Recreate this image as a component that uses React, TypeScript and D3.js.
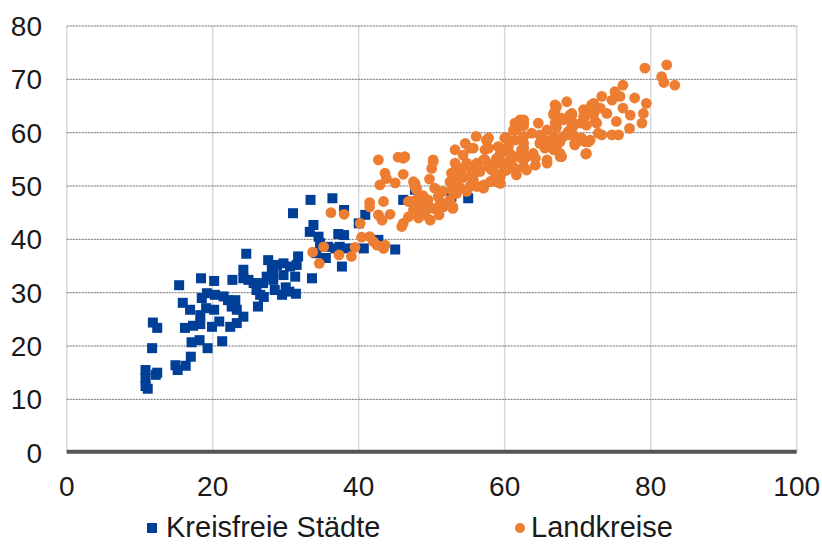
import React from 'react';
import * as d3 from 'd3';

// Kreisfreie Städte (x, y)
const kreisfreieStaedte: [number, number][] = [
  [10.8, 15.5], [10.8, 14], [10.8, 12.5], [11.1, 12], [12.4, 15], [12.2, 14.6], [11.7, 19.6],
  [11.8, 24.4], [12.4, 23.4], [14.9, 16.4], [15.2, 15.5], [16.3, 16.3], [17.0, 18], [17.1, 20.7],
  [18.2, 21.1], [19.3, 19.6], [21.3, 20.9], [15.4, 31.4], [18.4, 32.7], [20.2, 32.2], [15.9, 28.1],
  [16.9, 26.8], [16.2, 23.4], [17.3, 23.8], [18.3, 24.1], [18.3, 25.8], [19.1, 27.1], [18.5, 29.0],
  [19.2, 29.9], [20.2, 26.8], [19.9, 23.6], [20.9, 24.6], [20.3, 29.6], [21.5, 29.3], [22.1, 28.6],
  [23.1, 28.6], [22.6, 27.4], [23.3, 26.8], [24.2, 25.5], [22.4, 23.6], [23.3, 24.3], [22.7, 32.4],
  [24.2, 34.3], [24.6, 37.3], [24.2, 32.7], [24.9, 32.4], [25.6, 31.8], [26.2, 27.4], [26.5, 29.6],
  [26.0, 30.5], [26.9, 31.8], [27.4, 33.0], [27.6, 36.1], [28.1, 34.6], [28.5, 30.5], [28.3, 32.4],
  [31.0, 44.9], [33.4, 47.4], [36.4, 47.7], [38.0, 45.5], [33.8, 42.7], [33.3, 41.4], [34.5, 40.5],
  [34.7, 39.3], [37.2, 41.0], [38.0, 40.8], [35.8, 38.6], [36.8, 38.3], [37.4, 38.6], [38.4, 38.3],
  [37.7, 34.9], [33.6, 32.7], [35.5, 36.5], [34.2, 37.4], [31.7, 36.8], [31.5, 35.2], [29.7, 33.3],
  [28.8, 35.2], [29.7, 35.5], [31.3, 33.0], [30.6, 34.9], [28.3, 33.6], [40.9, 44.6], [40.0, 43.0],
  [40.7, 38.3], [42.7, 39.9], [45.0, 38.1], [46.1, 47.4], [47.7, 49.3], [55.0, 47.7], [52.7, 48.0],
  [30.5, 30.2], [29.5, 29.6], [31.4, 29.8], [30.0, 31.0], [27.0, 29.2],
];

// Landkreise (x, y)
const landkreise: [number, number][] = [
  [36.2, 45.0], [38.0, 44.7], [40.2, 43.0], [35.2, 38.6], [33.7, 37.6], [34.6, 35.5], [37.3, 37.1],
  [39.0, 36.8], [39.5, 38.5], [40.4, 40.4], [41.5, 40.5], [42.0, 39.6], [42.5, 38.9], [43.6, 38.9],
  [43.4, 38.3], [41.5, 46.9], [41.5, 46.1], [43.4, 47.1], [42.7, 44.6], [43.2, 43.6], [44.3, 44.7],
  [42.9, 50.2], [43.6, 52.4], [43.8, 51.4], [45.0, 50.6], [46.1, 52.2], [42.7, 54.9], [45.4, 55.4],
  [46.3, 55.4], [47.7, 50.5], [47.9, 49.3], [49.7, 51.3], [50.0, 53.3], [50.2, 54.9], [46.1, 43.0],
  [45.9, 42.4], [46.8, 44.2], [46.8, 47.1], [47.9, 47.4], [47.5, 45.5], [48.4, 45.8], [49.1, 44.6],
  [49.8, 43.6], [49.3, 46.8], [50.7, 45.8], [50.9, 48.0], [51.8, 46.4], [52.9, 45.8], [52.5, 47.4],
  [53.2, 49.9], [53.4, 48.6], [52.7, 52.4], [53.4, 51.4], [54.1, 53.0], [54.1, 51.4], [53.2, 54.3],
  [54.8, 54.3], [53.2, 56.8], [54.3, 55.8],
  [46.1, 55.2], [47.5, 50.8], [47.7, 49.8], [54.6, 58.0], [55.2, 57.1], [56.1, 59.3], [57.6, 58.6],
  [57.8, 57.1], [53.9, 53.0], [52.9, 51.1], [54.8, 53.9], [55.5, 53.3], [55.2, 51.7], [56.6, 53.0],
  [57.1, 54.9], [57.8, 53.6], [58.4, 53.0], [58.9, 51.1], [59.4, 54.3], [59.4, 56.1], [59.1, 57.4],
  [57.1, 49.9], [56.2, 49.9], [55.7, 51.1], [58.0, 50.8], [59.4, 50.5], [60.3, 53.0], [60.7, 54.9],
  [60.5, 57.4], [60.3, 59.0], [61.6, 60.5], [62.6, 61.8], [62.1, 62.4], [61.4, 61.8], [61.4, 58.6],
  [62.6, 58.0], [62.3, 56.8], [61.4, 55.5], [63.0, 55.5], [62.6, 53.6], [61.6, 53.0], [64.2, 53.9],
  [65.8, 54.3], [63.9, 56.1], [64.8, 58.0], [64.6, 61.8], [65.8, 60.5], [65.5, 58.6], [66.7, 59.3],
  [67.1, 57.4], [67.6, 55.5], [66.9, 64.0], [67.1, 64.9], [68.5, 65.8], [68.0, 62.4], [69.2, 63.3],
  [69.2, 61.4], [68.7, 60.2], [69.4, 59.6], [69.6, 57.7], [71.0, 58.3], [71.7, 58.6], [71.2, 56.1],
  [70.8, 64.3], [71.9, 65.2], [72.2, 63.6], [72.6, 61.8], [70.5, 61.8],
  [79.2, 72.1], [82.2, 72.7], [81.5, 70.5], [81.8, 69.4], [83.3, 68.9], [76.2, 68.9], [75.1, 67.7],
  [75.8, 66.8], [74.7, 66.1], [73.3, 66.8], [72.2, 65.5], [77.8, 66.5], [79.4, 65.5], [79.0, 63.6],
  [78.8, 61.8], [77.2, 63.3], [77.1, 60.8], [75.3, 62.1], [74.7, 59.6], [73.3, 59.6], [75.6, 59.6],
  [76.2, 64.6], [74.0, 63.6], [73.1, 64.6], [71.2, 63.3], [66.7, 63.6], [69.2, 63.6], [71.2, 61.4],
  [71.1, 56.0], [70.5, 59.0], [69.6, 58.0], [67.8, 55.5], [68.0, 59.3], [67.1, 61.0], [64.8, 59.6],
  [62.6, 62.4], [62.6, 59.3], [62.6, 54.9], [66.7, 56.8], [69.0, 60.5], [69.4, 61.8],
  [46.3, 55.5], [47.9, 49.6], [47.0, 47.1], [48.4, 46.1], [49.5, 47.4], [50.2, 45.8], [51.6, 46.1],
  [52.9, 46.1], [50.2, 54.6], [57.5, 58.6], [53.4, 53.6], [52.9, 52.4], [52.5, 50.8], [53.6, 51.1],
  [52.7, 49.3], [53.9, 49.6], [54.8, 49.0], [55.2, 49.9], [55.0, 53.9], [56.2, 54.3], [55.5, 52.4],
  [56.6, 52.7], [57.1, 49.6], [58.2, 53.0], [58.9, 50.8], [59.4, 51.7], [58.7, 54.6], [59.4, 57.1],
  [57.3, 56.8], [59.8, 54.3],
  [57.8, 59.0], [57.6, 57.1], [60.0, 59.0], [61.2, 60.5], [62.1, 62.1], [62.6, 61.3], [63.7, 59.9],
  [66.0, 58.3], [65.5, 57.1], [64.2, 55.2], [65.8, 54.9], [67.6, 56.1], [67.6, 58.3], [66.9, 61.8],
  [66.7, 63.3], [66.9, 65.2], [67.8, 62.7], [68.9, 63.3], [69.4, 61.2], [68.7, 59.6], [69.9, 58.3],
  [71.5, 58.3], [70.8, 63.0], [71.7, 64.6], [72.4, 62.1], [72.8, 59.9], [55.7, 57.1], [57.3, 54.9],
  [58.9, 55.2], [59.8, 52.7], [61.2, 53.6], [60.7, 56.1], [62.6, 57.1], [62.3, 55.2], [63.0, 53.0],
  [61.6, 52.1], [58.4, 51.1], [57.1, 50.2], [55.7, 52.2],
  [48.8, 48.2], [51.2, 47.0], [49.0, 45.2], [51.0, 44.6], [48.2, 44.0], [50.4, 49.6], [51.5, 49.0],
];

const xTicks = [0, 20, 40, 60, 80, 100];
const yTicks = [0, 10, 20, 30, 40, 50, 60, 70, 80];

const BLUE = '#003f98';
const ORANGE = '#ed7d31';
const FONT = '"Liberation Sans", Arial, sans-serif';

const App = () => {
  const width = 822;
  const height = 544;

  const x = d3.scaleLinear().domain([0, 100]).range([66.7, 796.7]);
  const y = d3.scaleLinear().domain([0, 80]).range([452.7, 26]);
  const sq = 10;

  return (
    <svg
      width={width}
      height={height}
      style={{ position: 'absolute', left: 0, top: 0, background: '#fff' }}
      fontFamily={FONT}
    >
      {/* vertical gridlines */}
      {xTicks.map((t) => (
        <line
          key={'vx' + t}
          x1={x(t)}
          x2={x(t)}
          y1={y(80)}
          y2={y(0)}
          stroke="#d9d9d9"
          strokeWidth={1.5}
        />
      ))}
      {/* horizontal dotted gridlines */}
      {yTicks
        .filter((t) => t > 0)
        .map((t) => (
          <line
            key={'hy' + t}
            x1={x(0)}
            x2={x(100)}
            y1={y(t)}
            y2={y(t)}
            stroke="#6b6b6b"
            strokeWidth={1}
            strokeDasharray="2,1"
          />
        ))}

      {/* markers */}
      {kreisfreieStaedte.map((d, i) => (
        <rect
          key={'s' + i}
          x={x(d[0]) - sq / 2}
          y={y(d[1]) - sq / 2}
          width={sq}
          height={sq}
          fill={BLUE}
        />
      ))}
      {landkreise.map((d, i) => (
        <circle key={'l' + i} cx={x(d[0])} cy={y(d[1])} r={5.4} fill={ORANGE} />
      ))}

      {/* x axis line */}
      <line x1={x(0)} x2={x(100)} y1={y(0) - 1} y2={y(0) - 1} stroke="#555555" strokeWidth={4} />

      {/* tick labels */}
      {yTicks.map((t) => (
        <text
          key={'yl' + t}
          x={42}
          y={y(t)}
          dy="0.36em"
          textAnchor="end"
          fontSize={28}
          fill="#1a1a1a"
        >
          {t}
        </text>
      ))}
      {xTicks.map((t) => (
        <text key={'xl' + t} x={x(t)} y={496} textAnchor="middle" fontSize={28} fill="#1a1a1a">
          {t}
        </text>
      ))}

      {/* legend */}
      <rect x={147} y={523} width={10} height={10} fill={BLUE} />
      <text x={166} y={537} fontSize={29} fill="#1a1a1a">
        Kreisfreie Städte
      </text>
      <circle cx={520} cy={528} r={5} fill={ORANGE} />
      <text x={531} y={537} fontSize={29} fill="#1a1a1a">
        Landkreise
      </text>
    </svg>
  );
};

export default App;
